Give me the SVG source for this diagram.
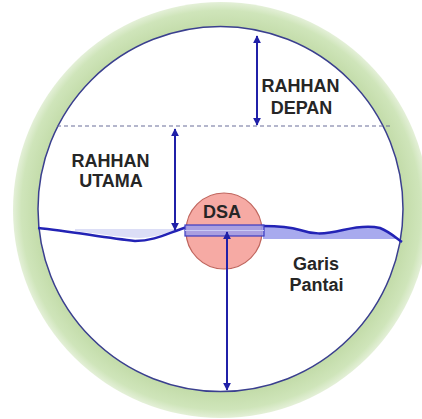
<svg xmlns="http://www.w3.org/2000/svg" width="422" height="419" viewBox="0 0 422 419">
<defs>
<radialGradient id="ring" cx="221" cy="210" r="208" gradientUnits="userSpaceOnUse">
<stop offset="0.87" stop-color="#c2dba8"/>
<stop offset="0.96" stop-color="#cfe5ba"/>
<stop offset="1" stop-color="#e4f0d8"/>
</radialGradient>
<marker id="ah" viewBox="0 0 10 10" refX="9" refY="5" markerWidth="4" markerHeight="4" orient="auto-start-reverse">
<path d="M0,0 L10,5 L0,10 z" fill="#2020a8"/>
</marker>
<style>
.lbl{font-family:"Liberation Sans",Arial,sans-serif;font-weight:bold;font-size:18px;fill:#262626;text-anchor:middle}
.arr{stroke:#2020a8;stroke-width:2;fill:none}
</style>
</defs>
<rect width="422" height="419" fill="#ffffff"/>
<g id="frame">
<circle cx="221" cy="210" r="208" fill="url(#ring)"/>
<circle cx="220.5" cy="209" r="182.5" fill="#ffffff" stroke="#3a3f8f" stroke-width="1.5"/>
</g>
<g id="dashed-line">
<line x1="57" y1="126" x2="390" y2="126" stroke="#6a6f9a" stroke-width="1.2" stroke-dasharray="4,3"/>
</g>
<g id="coast">
<path d="M75,231 C100,234 125,238 140,238 C158,237 168,232 187,227 L187,229 L75,229 Z" fill="#dcdef6"/>
<path d="M263,226 C278,226 290,227 300,230 C312,234 322,235 343,230 C356,227 368,225 380,228 C390,232 395,237 398,239 L263,239 Z" fill="#a8aaee"/>
<path d="M38,228 C70,231 105,238 135,241 C155,241 168,233 187,227 L263,226 C278,226 290,227 300,230 C312,234 322,235 343,230 C356,227 368,225 380,228 C390,232 396,238 402,242" fill="none" stroke="#2323b5" stroke-width="2.5"/>
</g>
<g id="dsa">
<circle cx="224" cy="231" r="38" fill="#f6aaa4" stroke="#c0655d" stroke-width="1.2"/>
<rect x="185" y="225" width="79" height="11" fill="#9b9eec" fill-opacity="0.85" stroke="#3b3bc0" stroke-width="1.2"/>
<line x1="185" y1="230.5" x2="264" y2="230.5" stroke="#c9cbf6" stroke-width="1"/>
<text class="lbl" x="222" y="218">DSA</text>
</g>
<g id="connectors">
<line class="arr" x1="257" y1="36" x2="257" y2="125" marker-start="url(#ah)" marker-end="url(#ah)"/>
<line class="arr" x1="175" y1="129" x2="175" y2="230" marker-start="url(#ah)" marker-end="url(#ah)"/>
<line class="arr" x1="227" y1="232" x2="227" y2="390" marker-start="url(#ah)" marker-end="url(#ah)"/>
</g>
<g id="label-depan">
<text class="lbl" x="300.5" y="92">RAHHAN</text>
<text class="lbl" x="301.5" y="114">DEPAN</text>
</g>
<g id="label-utama">
<text class="lbl" x="110.5" y="167">RAHHAN</text>
<text class="lbl" x="111" y="187">UTAMA</text>
</g>
<g id="label-garis">
<text class="lbl" x="316" y="270">Garis</text>
<text class="lbl" x="316.5" y="291">Pantai</text>
</g>
</svg>
